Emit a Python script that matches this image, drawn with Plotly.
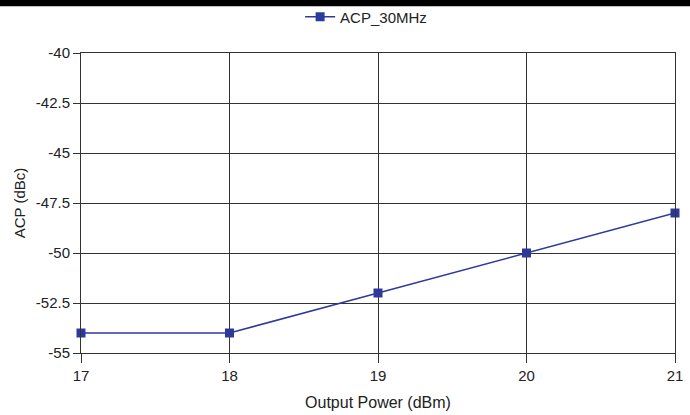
import plotly.graph_objects as go

# data
output_power = [17, 18, 19, 20, 21]
acp_30mhz = [-54, -54, -52, -50, -48]

y_ticks = [-40, -42.5, -45, -47.5, -50, -52.5, -55]
y_labels = ["-40", "-42.5", "-45", "-47.5", "-50", "-52.5", "-55"]

BLUE = "#2e3a9a"
GRID = "#333333"

fig = go.Figure()

fig.add_trace(go.Scatter(
    x=output_power,
    y=acp_30mhz,
    mode="lines+markers",
    name="ACP_30MHz",
    line=dict(color=BLUE, width=1.5),
    marker=dict(symbol="square", size=9, color=BLUE),
    cliponaxis=False,
))

# thick black bar across the top of the picture
fig.add_shape(type="rect", xref="paper", yref="paper",
              x0=-0.2, x1=1.1, y0=1.156, y1=1.2,
              fillcolor="black", line_width=0, layer="above")

fig.update_layout(
    width=690, height=415,
    plot_bgcolor="white", paper_bgcolor="white",
    font=dict(family="Liberation Sans, Arial", size=15, color="#222222"),
    margin=dict(l=81, r=15, t=53, b=62, autoexpand=False),
    showlegend=True,
    legend=dict(orientation="h", x=0.48, xanchor="center", y=1.12, yanchor="middle",
                font=dict(size=15), bgcolor="rgba(0,0,0,0)"),
    xaxis=dict(
        range=[17, 21], tickvals=output_power, ticktext=[str(v) for v in output_power],
        showgrid=True, gridcolor=GRID, gridwidth=1,
        showline=True, linecolor=GRID, mirror=True,
        ticks="outside", ticklen=9, tickcolor=GRID,
        zeroline=False, tickfont=dict(size=15),
        title=dict(text="Output Power (dBm)", font=dict(size=16), standoff=13),
    ),
    yaxis=dict(
        range=[-55, -40], tickvals=y_ticks, ticktext=y_labels,
        showgrid=True, gridcolor=GRID, gridwidth=1,
        showline=True, linecolor=GRID, mirror=True,
        ticks="outside", ticklen=7, tickcolor=GRID,
        zeroline=False, tickfont=dict(size=15),
        title=dict(text="ACP (dBc)", font=dict(size=15), standoff=6),
    ),
)

# the page's default body margin would shift the figure by 8px
fig.write_html("out.html", config={"displayModeBar": False},
               post_script="document.body.style.margin='0';")
